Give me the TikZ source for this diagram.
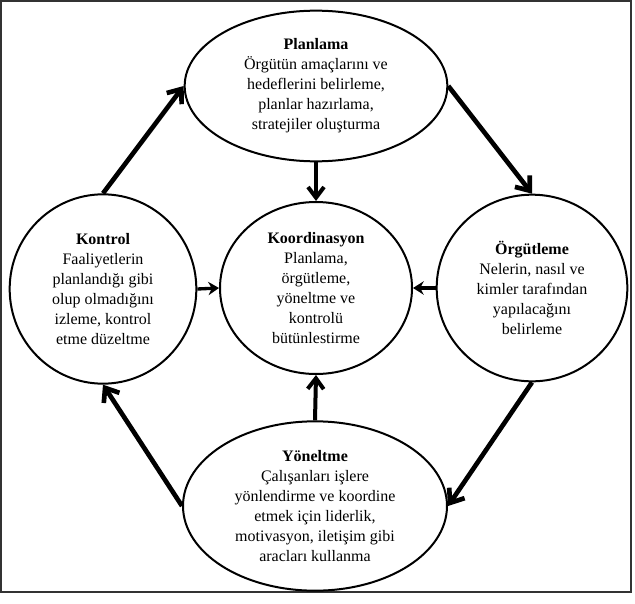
\documentclass[tikz,border=0pt]{standalone}
\usepackage{fontspec}
\setmainfont{Liberation Serif}
\usetikzlibrary{shapes.geometric, arrows.meta, positioning}

\tikzset{
	phase/.style={ellipse, draw, line width=1.5pt, align=center, inner sep=0pt, font=\fontsize{12}{15}\selectfont},
	cycle/.style={-{Straight Barb[length=9pt,width=14pt]}, line width=3.5pt},
	tocenter/.style={-{Straight Barb[length=8pt,width=12pt]}, line width=3pt},
	tomid/.style={-{Stealth[length=8pt,width=10pt]}, line width=2.5pt}
}

\begin{document}
\begin{tikzpicture}[x=0.75pt, y=-0.75pt]
	\useasboundingbox (0,0) rectangle (635,603);
	\draw[line width=1pt, black!80] (1,1) rectangle (631,592);

	\draw (316,86) node[phase, minimum width=197pt, minimum height=113pt] (plan) {\textbf{Planlama}\\Örgütün amaçlarını ve\\hedeflerini belirleme,\\planlar hazırlama,\\stratejiler oluşturma}
	(103,289) node[phase, minimum width=140pt, minimum height=142pt] (kontrol) {\textbf{Kontrol}\\Faaliyetlerin\\planlandığı gibi\\olup olmadığını\\izleme, kontrol\\etme düzeltme}
	(316,288) node[phase, minimum width=144pt, minimum height=129pt] (koord) {\textbf{Koordinasyon}\\Planlama,\\örgütleme,\\yöneltme ve\\kontrolü\\bütünlestirme}
	(532,288) node[phase, minimum width=143pt, minimum height=140pt] (orgut) {\textbf{Örgütleme}\\Nelerin, nasıl ve\\kimler tarafından\\yapılacağını\\belirleme}
	(315,506) node[phase, minimum width=198pt, minimum height=127pt] (yonelt) {\textbf{Yöneltme}\\Çalışanları işlere\\yönlendirme ve koordine\\etmek için liderlik,\\motivasyon, iletişim gibi\\aracları kullanma};

	% dongu
	\draw[cycle] (kontrol.north) -- (plan.west);
	\draw[cycle] (plan.east) -- (orgut.north);
	\draw[cycle] (orgut.south) -- (yonelt.east);
	\draw[cycle] (yonelt.west) -- (kontrol.south);

	% merkeze
	\draw[tocenter] (plan.south) -- (koord.north);
	\draw[tocenter] (yonelt.north) -- (koord.south);
	\draw[tomid] (kontrol.east) -- (koord.west);
	\draw[tomid] (orgut.west) -- (koord.east);
\end{tikzpicture}
\end{document}
